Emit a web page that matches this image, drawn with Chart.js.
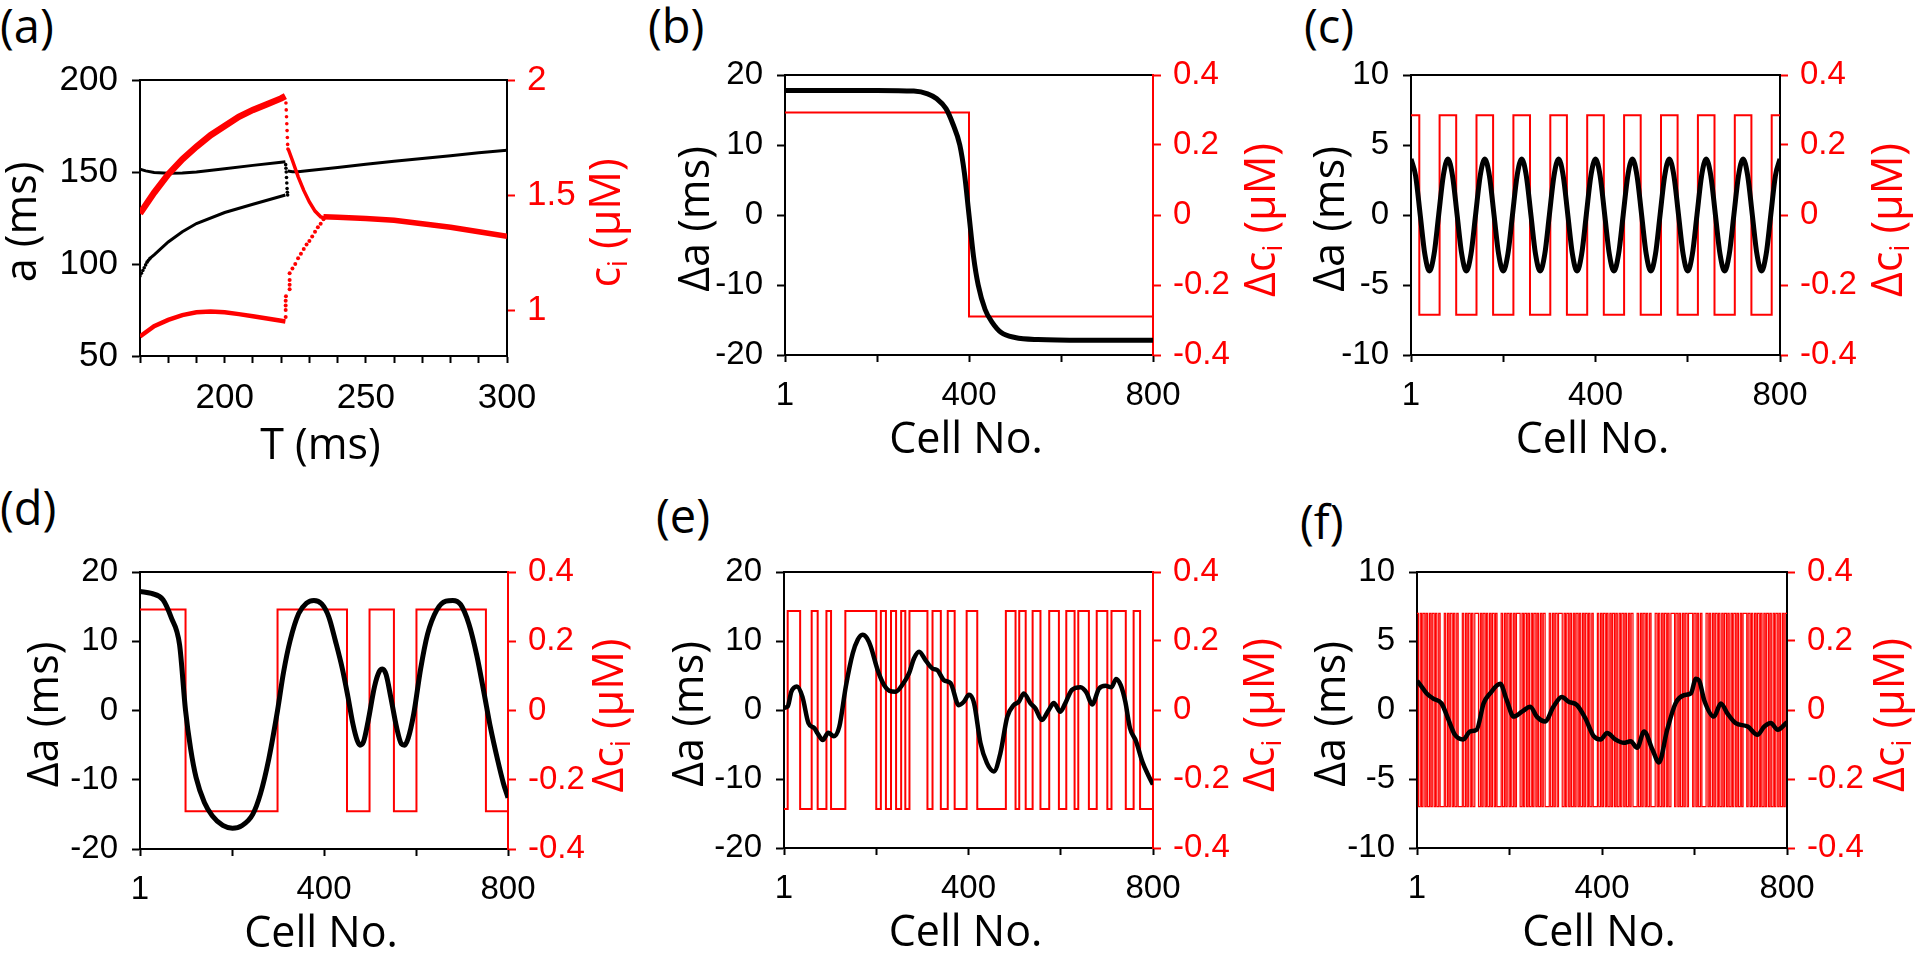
<!DOCTYPE html>
<html>
<head>
<meta charset="utf-8">
<script src="https://cdn.jsdelivr.net/npm/chart.js@4.4.1/dist/chart.umd.min.js"></script>
<style>
    html, body { margin: 0; padding: 0; background: #fff; width: 1920px; height: 956px; overflow: hidden; }
    canvas { position: absolute; }
    .tag { position: absolute; font-family: "Open Sans", "Noto Sans", sans-serif; font-size: 47px; line-height: 1; color: #000; }
</style>
</head>
<body>
<div class="tag" style="left:0px;top:2px">(a)</div>
<div class="tag" style="left:648px;top:2px">(b)</div>
<div class="tag" style="left:1304px;top:2px">(c)</div>
<div class="tag" style="left:0px;top:484px">(d)</div>
<div class="tag" style="left:656px;top:492px">(e)</div>
<div class="tag" style="left:1300px;top:498px">(f)</div>
<script>
const RED = '#ff0000';
const INK = '#000000';
const FONT_TICK = '"Liberation Sans", Arial, sans-serif';
const FONT_TITLE = '"Open Sans", "Noto Sans", sans-serif';

// ---- (a) bifurcation: a and ci vs T ----
const aUpperT = [170, 172, 175, 180, 185, 190, 200, 210, 220, 221.5];
const aUpperV = [151.5, 150.6, 149.7, 149.3, 149.5, 150, 151.8, 153.6, 155.3, 155.6];
const aKinkT = [221.6, 221.7, 221.8, 221.9, 222, 222.1, 222.2, 222.3];
const aKinkV = [154, 152, 150, 147, 144, 141, 139, 137.5];
const aLowDotT = [170, 170.5, 171, 171.5, 172, 172.5, 173, 173.5];
const aLowDotV = [93.5, 95, 96.5, 98, 99.5, 101, 102, 103];
const aLowerT = [173.5, 175, 180, 185, 190, 200, 210, 220, 221.5];
const aLowerV = [103, 105, 112, 117.5, 122, 128, 132.5, 136.8, 137.5];
const aAfterT = [222.3, 224, 226, 230, 240, 250, 260, 270, 280, 290, 300];
const aAfterV = [150.5, 150.1, 150.2, 150.8, 152.5, 154.2, 155.8, 157.3, 158.8, 160.4, 161.8];

const cUpperT = [170, 175, 180, 185, 190, 195, 200, 205, 210, 215, 220, 221.5];
const cUpperV = [1.42, 1.51, 1.59, 1.655, 1.71, 1.76, 1.80, 1.84, 1.87, 1.895, 1.92, 1.93];
const cDropT = [221.7, 221.8, 221.9, 222, 222.1, 222.2, 222.3, 222.4];
const cDropV = [1.9, 1.87, 1.84, 1.81, 1.78, 1.75, 1.72, 1.70];
const cFallT = [222.5, 224, 226, 228, 230, 232, 234, 235.5];
const cFallV = [1.70, 1.65, 1.58, 1.52, 1.47, 1.43, 1.405, 1.40];
const cLowerT = [170, 175, 180, 185, 190, 195, 200, 205, 210, 215, 220, 221.5];
const cLowerV = [0.885, 0.93, 0.957, 0.978, 0.99, 0.993, 0.99, 0.982, 0.973, 0.963, 0.953, 0.95];
const cRiseT = [221.6, 221.6, 221.6, 221.6, 221.7, 223, 223, 223, 223, 224, 225, 226, 227, 228, 229, 230, 231, 232, 233, 234, 235];
const cRiseV = [0.97, 1.0, 1.02, 1.04, 1.06, 1.09, 1.11, 1.13, 1.16, 1.18, 1.20, 1.225, 1.245, 1.265, 1.285, 1.30, 1.32, 1.34, 1.36, 1.375, 1.395];
const cAfterT = [235, 240, 250, 260, 270, 280, 290, 300];
const cAfterV = [1.405, 1.403, 1.398, 1.39, 1.375, 1.36, 1.34, 1.32];

// ---- (b) single front ----
const bCells = [0, 100, 200, 280, 310, 330, 350, 365, 380, 390, 400, 410, 420, 435, 450, 470, 500, 550, 650, 800];
const bDa = [17.8, 17.8, 17.8, 17.7, 17.3, 16.6, 15.2, 13, 10, 6, 0, -6, -10, -13.5, -15.3, -16.8, -17.5, -17.8, -17.9, -17.9];
const bSwitch = [400];

// ---- (c) periodic, every 10 cells ----
const cVals = [
    4, 2.8, 0, -2.8, -4, -2.8, 0, 2.8, 4, 2.8, 0, -2.8, -4, -2.8, 0, 2.8,
    4, 2.8, 0, -2.8, -4, -2.8, 0, 2.8, 4, 2.8, 0, -2.8, -4, -2.8, 0, 2.8,
    4, 2.8, 0, -2.8, -4, -2.8, 0, 2.8, 4, 2.8, 0, -2.8, -4, -2.8, 0, 2.8,
    4, 2.8, 0, -2.8, -4, -2.8, 0, 2.8, 4, 2.8, 0, -2.8, -4, -2.8, 0, 2.8,
    4, 2.8, 0, -2.8, -4, -2.8, 0, 2.8, 4, 2.8, 0, -2.8, -4, -2.8, 0, 2.8, 4
];
const cSwitch = [18, 62, 98, 142, 178, 222, 258, 302, 338, 382, 418, 462, 498, 542, 578, 622, 658, 702, 738, 782];

// ---- (d) ----
const dCells = [0, 25, 50, 68, 86, 99, 110, 122, 140, 157, 180, 201, 222, 245, 262, 280, 299, 312, 326, 345, 362, 378, 395, 410, 425, 440, 452, 463, 472, 478, 486, 496, 510, 520, 527, 535, 545, 558, 568, 575, 583, 595, 610, 625, 645, 665, 680, 697, 715, 732, 748, 762, 778, 790, 800];
const dDa = [17.2, 16.9, 16, 13.4, 9.5, 0, -5.5, -9.7, -13.3, -15.2, -16.6, -17, -16.6, -15, -12, -7, 0, 5.5, 10, 14, 15.5, 15.9, 15.4, 13.6, 10, 6, 2, -2, -4.3, -5, -4.5, -1.5, 3.5, 5.6, 6, 5.2, 2, -2.5, -4.8, -5, -4, -0.5, 6, 11, 14.5, 15.8, 15.9, 15.3, 12.5, 8, 2.5, -2.5, -7.3, -10.5, -12.6];
const dSwitch = [99, 299, 450, 499, 552, 601, 752];

// ---- (e) ----
const eCells = [0, 8, 16, 28, 40, 53, 66, 73, 84, 96, 108, 120, 134, 149, 160, 170, 180, 188, 203, 217, 228, 242, 257, 271, 282, 293, 307, 322, 332, 347, 361, 379, 390, 401, 412, 426, 440, 455, 469, 484, 498, 509, 520, 534, 545, 559, 574, 585, 599, 610, 624, 643, 656, 668, 683, 697, 710, 720, 730, 740, 750, 763, 777, 790, 800];
const eDa = [0.3, 0.5, 2.65, 3.4, 1.9, -1.9, -2.66, -3.4, -4.35, -3.3, -3.8, -2.4, 3.4, 8.2, 10.2, 10.9, 10.4, 9.2, 5.8, 3.6, 2.8, 2.65, 3.7, 5.3, 7.5, 8.45, 7.2, 6, 5.8, 4.3, 3.9, 0.7, 1.2, 2.2, 1, -4.8, -7.7, -8.9, -6.3, -1, 0.7, 1.2, 2.4, 1, 0.24, -1.45, 0, 1, -0.24, 1, 2.9, 3.3, 2.5, 0.8, 3.1, 3.5, 3.3, 4.5, 3.6, 1.2, -2.6, -4.5, -7.5, -9.5, -10.8];
const eSwitch = [8, 35, 60, 73, 92, 102, 133, 200, 210, 221, 232, 243, 254, 263, 272, 311, 322, 340, 355, 370, 396, 419, 481, 502, 510, 524, 539, 556, 575, 596, 612, 630, 638, 661, 678, 701, 710, 741, 758, 772];

// ---- (f) ----
const fCells = [0, 3, 21, 35, 53, 68, 82, 100, 115, 129, 144, 158, 180, 194, 209, 227, 245, 259, 277, 295, 313, 328, 346, 364, 382, 397, 411, 429, 447, 462, 476, 491, 509, 523, 541, 559, 577, 592, 603, 610, 621, 642, 657, 671, 689, 715, 736, 751, 765, 780, 798, 800];
const fDa = [2.1, 2.0, 1.2, 0.83, 0.48, -0.7, -1.8, -2.14, -1.55, -1.43, 0.48, 1.2, 1.9, 0.71, -0.48, -0.12, 0.24, -0.48, -0.83, 0.24, 0.95, 0.6, 0.36, -0.6, -1.9, -2.14, -1.67, -2.14, -2.38, -2.26, -2.74, -1.55, -2.86, -3.8, -1.43, 0.48, 1.07, 1.2, 2.26, 2.14, 0.71, -0.48, 0.48, -0.24, -0.95, -1.2, -1.8, -1.2, -0.95, -1.43, -0.95, -0.9];
// cells between successive switches of the fast alternans
const fRuns = [
    3, 4, 3, 3, 4, 3, 3, 4, 3, 3, 4, 3, 3, 4, 3, 9,
    3, 4, 3, 3, 4, 3, 3, 4, 3, 9,
    3, 4, 3, 3, 4, 3, 3, 4, 8,
    4, 3, 3, 4, 3, 3, 4, 3, 3, 4, 3, 3, 9,
    3, 4, 3, 3, 4, 3, 3, 4, 3, 3, 8,
    4, 3, 3, 4, 3, 3, 4, 3, 3, 4, 3, 3, 4, 3, 3, 4, 9,
    3, 4, 3, 3, 4, 3, 8,
    4, 3, 3, 4, 3, 3, 4, 3, 3, 4, 3, 3, 4, 3, 3, 4, 3, 3, 4, 3, 9,
    3, 4, 3, 3, 4, 3, 3, 4, 3, 3, 4, 3, 3, 4, 3, 3, 4, 3, 3, 4, 3, 3, 4, 9,
    3, 4, 3, 3, 4, 3, 3, 4, 3, 9,
    4, 3, 3, 4, 3, 3, 4, 3, 3, 4, 8,
    3, 4, 3, 3, 4, 3, 3, 4, 3, 9,
    3, 4, 3, 3, 4, 3, 9,
    4, 3, 3, 4, 3, 3, 4, 3, 3, 4, 3, 3, 4, 3, 3, 4, 3, 3, 4, 3, 3, 4, 3, 3, 8,
    3, 4, 3, 3, 4, 3, 3, 4, 3, 3, 4, 3, 3, 4, 3, 3, 4, 3, 3, 4, 3, 3, 4, 3, 3, 4, 3, 3, 4, 3, 3, 4, 3, 3, 4, 3, 3, 4
];

const cellTicks = [0, 200, 400, 600, 800];
const cellLabels = {0: '1', 400: '400', 800: '800'};
const tTicks = [170, 180, 190, 200, 210, 220, 230, 240, 250, 260, 270, 280, 290, 300];
const tLabels = {200: '200', 250: '250', 300: '300'};

const PAD_SIDE = 150;
const PAD_TOP = 90;
const PAD_BOTTOM = 130;

function pts(xs, ys) {
    return xs.map((x, i) => ({x: x, y: ys[i]}));
}

function evenPts(vals, step) {
    return vals.map((v, i) => ({x: i * step, y: v}));
}

// square wave of the calcium alternans from its switch positions
function steps(switches, hi, lo, startHigh) {
    const out = [];
    let high = startHigh;
    out.push({x: 0, y: high ? hi : lo});
    for (const s of switches) {
        out.push({x: s, y: high ? hi : lo});
        high = !high;
        out.push({x: s, y: high ? hi : lo});
    }
    out.push({x: 800, y: high ? hi : lo});
    return out;
}

function runsToSwitches(runs) {
    const out = [];
    let s = 0;
    for (const r of runs) {
        s += r;
        if (s >= 800) break;
        out.push(s);
    }
    return out;
}

function lineSet(data, color, width, axis, smooth) {
    return {
        data: data, borderColor: color, backgroundColor: color, borderWidth: width,
        showLine: true, pointRadius: 0, yAxisID: axis,
        tension: smooth ? 0.4 : 0,
        cubicInterpolationMode: smooth ? 'monotone' : 'default'
    };
}

function dotSet(data, color, r, axis) {
    return {data: data, showLine: false, pointRadius: r, pointBorderWidth: 0,
        backgroundColor: color, borderColor: color, yAxisID: axis};
}

const titlesPlugin = {
    id: 'panelTitles',
    afterDraw(chart, args, o) {
        const ctx = chart.ctx;
        const a = chart.chartArea;
        const midY = (a.top + a.bottom) / 2;
        ctx.save();
        ctx.textBaseline = 'middle';
        ctx.textAlign = 'center';
        ctx.font = '43px ' + FONT_TITLE;
        ctx.fillStyle = INK;
        ctx.fillText(o.xTitle, (a.left + a.right) / 2 - 3, a.bottom + o.xDy);

        ctx.save();
        ctx.translate(a.left + o.leftDx, midY + 4);
        ctx.rotate(-Math.PI / 2);
        ctx.fillText(o.leftTitle, 0, 0);
        ctx.restore();

        // right title with a subscript, read bottom to top
        ctx.save();
        ctx.translate(a.right + o.rightDx, midY + 5);
        ctx.rotate(-Math.PI / 2);
        ctx.fillStyle = RED;
        ctx.textAlign = 'left';
        const parts = o.rightParts;
        let total = 0;
        for (const p of parts) {
            ctx.font = (p.sub ? '27px ' : '43px ') + FONT_TITLE;
            total += ctx.measureText(p.t).width;
        }
        let x = -total / 2;
        for (const p of parts) {
            ctx.font = (p.sub ? '27px ' : '43px ') + FONT_TITLE;
            ctx.fillText(p.t, x, p.sub ? 11 : 0);
            x += ctx.measureText(p.t).width;
        }
        ctx.restore();
        ctx.restore();
    }
};

function makePanel(p) {
    const canvas = document.createElement('canvas');
    const w = (p.box.R - p.box.L) + 2 * PAD_SIDE;
    const h = (p.box.B - p.box.T) + PAD_TOP + PAD_BOTTOM;
    canvas.width = w;
    canvas.height = h;
    canvas.style.left = (p.box.L - PAD_SIDE) + 'px';
    canvas.style.top = (p.box.T - PAD_TOP) + 'px';
    canvas.style.width = w + 'px';
    canvas.style.height = h + 'px';
    document.body.appendChild(canvas);

    const tickFont = {family: FONT_TICK, size: p.tickSize};
    return new Chart(canvas.getContext('2d'), {
        type: 'scatter',
        data: {datasets: p.datasets},
        plugins: [titlesPlugin],
        options: {
            responsive: false,
            animation: false,
            devicePixelRatio: 1,
            layout: {padding: {top: PAD_TOP, left: 0, right: 0, bottom: 0}},
            plugins: {
                legend: {display: false},
                tooltip: {enabled: false},
                panelTitles: p.titles
            },
            scales: {
                x: {
                    type: 'linear', position: 'bottom', min: p.xMin, max: p.xMax,
                    afterFit: s => { s.height = PAD_BOTTOM; },
                    afterBuildTicks: s => { s.ticks = p.xTicks.map(v => ({value: v})); },
                    grid: {drawOnChartArea: false, tickLength: 7, tickWidth: 2, color: INK},
                    border: {color: INK, width: 2},
                    ticks: {
                        autoSkip: false, maxRotation: 0, padding: 14, color: INK, font: tickFont,
                        callback: v => p.xLabels[v] || ''
                    }
                },
                xTop: {
                    type: 'linear', position: 'top', min: p.xMin, max: p.xMax,
                    afterFit: s => { s.height = 0; },
                    grid: {drawOnChartArea: false, drawTicks: false},
                    border: {color: INK, width: 2},
                    ticks: {display: false}
                },
                y: {
                    type: 'linear', position: 'left', min: p.yMin, max: p.yMax,
                    afterFit: s => { s.width = PAD_SIDE; },
                    afterBuildTicks: s => { s.ticks = p.yTicks.map(v => ({value: v})); },
                    grid: {drawOnChartArea: false, tickLength: 8, tickWidth: 2, color: INK},
                    border: {color: INK, width: 2},
                    ticks: {padding: 14, color: INK, font: tickFont, callback: v => String(v)}
                },
                y2: {
                    type: 'linear', position: 'right', min: p.y2Min, max: p.y2Max,
                    afterFit: s => { s.width = PAD_SIDE; },
                    afterBuildTicks: s => { s.ticks = p.y2Ticks.map(v => ({value: v})); },
                    grid: {drawOnChartArea: false, tickLength: 8, tickWidth: 2, color: RED},
                    border: {color: p.rightBorder, width: 2},
                    ticks: {
                        padding: 12, color: RED, font: tickFont,
                        callback: v => String(Math.round(v * 10) / 10)
                    }
                }
            }
        }
    });
}

const dcParts = [{t: 'Δc'}, {t: 'i', sub: true}, {t: ' (μM)'}];
const cellAxis = {xMin: 0, xMax: 800, xTicks: cellTicks, xLabels: cellLabels, y2Min: -0.4, y2Max: 0.4,
    y2Ticks: [-0.4, -0.2, 0, 0.2, 0.4], tickSize: 33};
const wide = {yMin: -20, yMax: 20, yTicks: [-20, -10, 0, 10, 20]};
const narrow = {yMin: -10, yMax: 10, yTicks: [-10, -5, 0, 5, 10]};

makePanel({
    box: {L: 140, T: 80, R: 507, B: 356},
    xMin: 170, xMax: 300, xTicks: tTicks, xLabels: tLabels,
    yMin: 50, yMax: 200, yTicks: [50, 100, 150, 200],
    y2Min: 0.8, y2Max: 2, y2Ticks: [1, 1.5, 2], tickSize: 35, rightBorder: INK,
    titles: {xTitle: 'T (ms)', xDy: 91, leftTitle: 'a (ms)', leftDx: -116,
        rightParts: [{t: 'c'}, {t: 'i', sub: true}, {t: ' (μM)'}], rightDx: 101},
    datasets: [
        lineSet(pts(cUpperT, cUpperV), RED, 6.5, 'y2'),
        dotSet(pts(cDropT, cDropV), RED, 1.8, 'y2'),
        lineSet(pts(cFallT, cFallV), RED, 3.5, 'y2'),
        lineSet(pts(cLowerT, cLowerV), RED, 4.5, 'y2'),
        dotSet(pts(cRiseT, cRiseV), RED, 2, 'y2'),
        lineSet(pts(cAfterT, cAfterV), RED, 5.5, 'y2'),
        lineSet(pts(aUpperT, aUpperV), INK, 3, 'y'),
        dotSet(pts(aKinkT, aKinkV), INK, 1.8, 'y'),
        dotSet(pts(aLowDotT, aLowDotV), INK, 1.8, 'y'),
        lineSet(pts(aLowerT, aLowerV), INK, 3, 'y'),
        lineSet(pts(aAfterT, aAfterV), INK, 3, 'y')
    ]
});

makePanel(Object.assign({}, cellAxis, wide, {
    box: {L: 785, T: 75, R: 1153, B: 355}, rightBorder: RED,
    titles: {xTitle: 'Cell No.', xDy: 86, leftTitle: 'Δa (ms)', leftDx: -88, rightParts: dcParts, rightDx: 110},
    datasets: [
        lineSet(pts(bCells, bDa), INK, 5, 'y', true),
        lineSet(steps(bSwitch, 0.293, -0.29, true), RED, 2, 'y2')
    ]
}));

makePanel(Object.assign({}, cellAxis, narrow, {
    box: {L: 1411, T: 75, R: 1780, B: 355}, rightBorder: INK,
    titles: {xTitle: 'Cell No.', xDy: 86, leftTitle: 'Δa (ms)', leftDx: -79, rightParts: dcParts, rightDx: 110},
    datasets: [
        lineSet(evenPts(cVals, 10), INK, 5, 'y', true),
        lineSet(steps(cSwitch, 0.285, -0.285, true), RED, 2, 'y2')
    ]
}));

makePanel(Object.assign({}, cellAxis, wide, {
    box: {L: 140, T: 572, R: 508, B: 849}, rightBorder: RED,
    titles: {xTitle: 'Cell No.', xDy: 86, leftTitle: 'Δa (ms)', leftDx: -94, rightParts: dcParts, rightDx: 103},
    datasets: [
        lineSet(pts(dCells, dDa), INK, 5, 'y', true),
        lineSet(steps(dSwitch, 0.292, -0.291, true), RED, 2, 'y2')
    ]
}));

makePanel(Object.assign({}, cellAxis, wide, {
    box: {L: 784, T: 572, R: 1153, B: 848}, rightBorder: RED,
    titles: {xTitle: 'Cell No.', xDy: 86, leftTitle: 'Δa (ms)', leftDx: -93, rightParts: dcParts, rightDx: 109},
    datasets: [
        lineSet(pts(eCells, eDa), INK, 4.5, 'y', true),
        lineSet(steps(eSwitch, 0.287, -0.287, false), RED, 2, 'y2')
    ]
}));

makePanel(Object.assign({}, cellAxis, narrow, {
    box: {L: 1417, T: 572, R: 1787, B: 848}, rightBorder: INK,
    titles: {xTitle: 'Cell No.', xDy: 86, leftTitle: 'Δa (ms)', leftDx: -84, rightParts: dcParts, rightDx: 105},
    datasets: [
        lineSet(pts(fCells, fDa), INK, 4.5, 'y', true),
        lineSet(steps(runsToSwitches(fRuns), 0.28, -0.28, true), RED, 1.2, 'y2')
    ]
}));
</script>
</body>
</html>
